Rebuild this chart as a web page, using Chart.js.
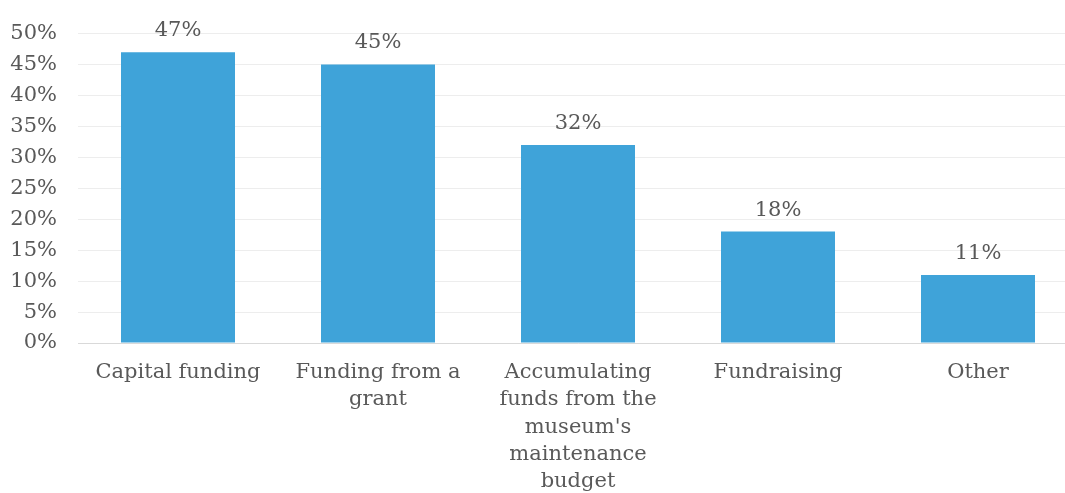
<!DOCTYPE html>
<html>
<head>
<meta charset="utf-8">
<script src="https://cdn.jsdelivr.net/npm/chart.js@4/dist/chart.umd.min.js"></script>
<style>
  html, body { margin: 0; padding: 0; background: #fff; overflow: hidden; }
  #wrap { width: 1078px; height: 493px; position: relative; }
</style>
</head>
<body>
<div id="wrap"><canvas id="c"></canvas></div>
<script>
// Funding sources, share of respondents (%)
const categories = [
  'Capital funding',
  ['Funding from a', 'grant'],
  ['Accumulating', 'funds from the', "museum's", 'maintenance', 'budget'],
  'Fundraising',
  'Other'
];
const shares = [47, 45, 32, 18, 11];
const yTicks = [0, 5, 10, 15, 20, 25, 30, 35, 40, 45, 50];

const FONT = "'DejaVu Serif', 'Liberation Serif', serif";
const TEXT = '#595959';

// Draws the percentage above each bar
const valueLabels = {
  id: 'valueLabels',
  afterDatasetsDraw(chart) {
    const ctx = chart.ctx;
    const meta = chart.getDatasetMeta(0);
    ctx.save();
    ctx.font = `21px ${FONT}`;
    ctx.fillStyle = TEXT;
    ctx.textAlign = 'center';
    ctx.textBaseline = 'bottom';
    meta.data.forEach((bar, i) => {
      ctx.fillText(shares[i] + '%', bar.x, bar.y - 11);
    });
    ctx.restore();
  }
};

new Chart(document.getElementById('c'), {
  type: 'bar',
  data: {
    labels: categories,
    datasets: [{
      data: shares,
      backgroundColor: '#3fa3d9',
      borderWidth: 0,
      categoryPercentage: 1,
      barPercentage: 0.57
    }]
  },
  options: {
    responsive: true,
    maintainAspectRatio: false,
    animation: false,
    layout: { padding: { top: 33, right: 0, left: 0, bottom: 0 } },
    plugins: { legend: { display: false }, tooltip: { enabled: false } },
    scales: {
      x: {
        grid: { display: false, drawTicks: false },
        border: { color: '#d9d9d9', width: 1 },
        ticks: {
          color: TEXT,
          font: { family: FONT, size: 21, lineHeight: 1.3 },
          padding: 16,
          maxRotation: 0,
          autoSkip: false
        },
        afterFit(scale) { scale.height = 150; }
      },
      y: {
        min: 0,
        max: 50,
        afterBuildTicks(scale) { scale.ticks = yTicks.map(v => ({ value: v })); },
        grid: { color: '#ededed', lineWidth: 1, drawTicks: false },
        border: { display: false },
        ticks: {
          color: TEXT,
          font: { family: FONT, size: 21 },
          padding: 21,
          callback: v => v + '%'
        },
        afterFit(scale) { scale.width = 78; }
      }
    }
  },
  plugins: [valueLabels]
});
</script>
</body>
</html>
